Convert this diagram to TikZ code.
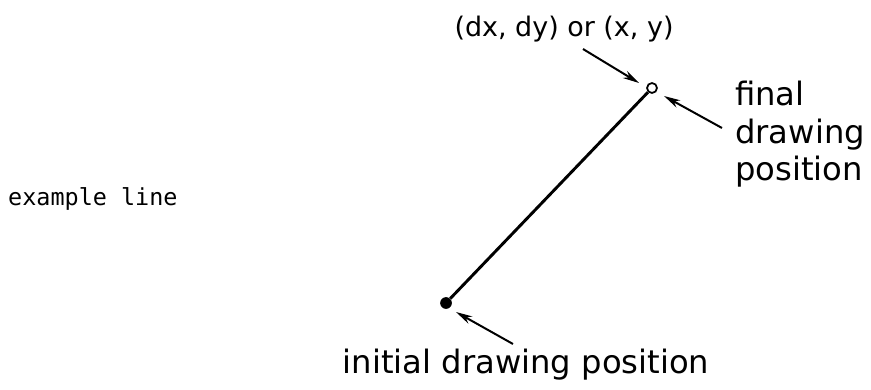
\documentclass[tikz,border=0pt]{standalone}
\usepackage{fontspec}
\setmainfont{DejaVu Sans}
\newfontfamily\typefont{DejaVu Sans Mono}
\usetikzlibrary{arrows.meta,positioning}

\begin{document}
\begin{tikzpicture}[
    x=0.03cm, y=-0.03cm,
    label text/.style={font=\fontsize{27.5}{32}\selectfont, inner sep=0pt, text=black},
    pointer/.style={line width=1.7pt, -{Stealth[length=14pt, width=7pt]}},
    stroke/.style={line width=2.5pt},
  ]

\useasboundingbox (0,0) rectangle (871,389);

% end points of the example line
\node[circle, draw, line width=1.5pt, fill=white, minimum size=8.5pt, inner sep=0pt] (finalpt) at (652,88) {};
\node[circle, fill=black, minimum size=10pt, inner sep=0pt] (initpt) at (446,303) {};

\draw[stroke] (initpt) -- (finalpt);

% labels
\node[label text, anchor=base, font=\fontsize{23}{28}\selectfont] (toplabel) at (564,36) {(dx, dy) or (x, y)};
\node[label text, anchor=north west, align=left] (finallabel) at (735,81) {final\\drawing\\position};
\node[label text, anchor=base] (initlabel) at (526,373) {initial drawing position};
\node[label text, anchor=base west, font=\typefont\fontsize{20}{24}\selectfont] (example) at (8,205) {example line};

% pointers
\coordinate (topfrom) at (583,49);
\coordinate (topto) at (639,83);
\coordinate (finalfrom) at (722,128);
\coordinate (finalto) at (664,96);
\coordinate (initfrom) at (513,344);
\coordinate (initto) at (456,312);

\draw[pointer] (topfrom) -- (topto);
\draw[pointer] (finalfrom) -- (finalto);
\draw[pointer] (initfrom) -- (initto);

\end{tikzpicture}
\end{document}
